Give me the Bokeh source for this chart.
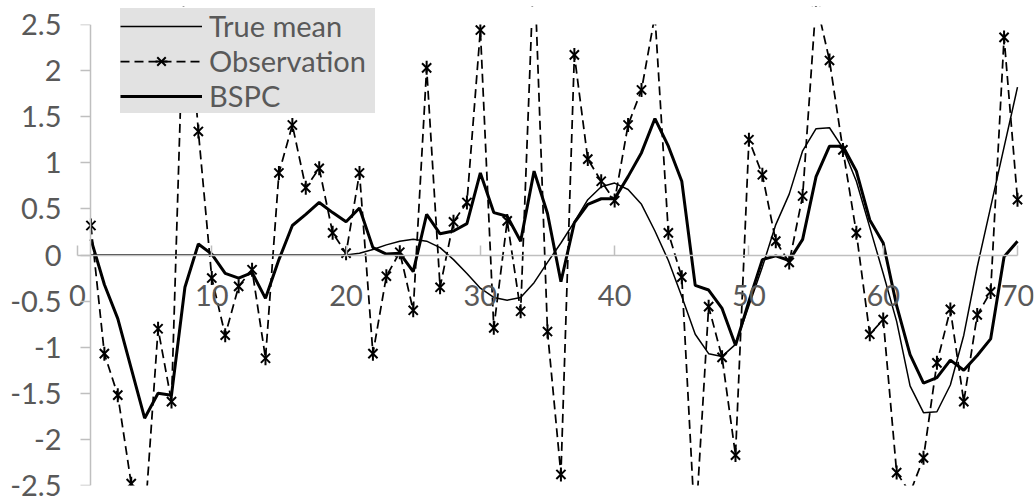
import math
from bokeh.plotting import figure
from bokeh.models import (FixedTicker, Legend, LegendItem, ColumnDataSource,
                          LinearAxis, BoxAnnotation)
from bokeh.embed import file_html
from bokeh.resources import INLINE

# ---------------- data ----------------
t = list(range(1, 71))

true_mean = [0, 0, 0, 0, 0, 0, 0, 0, 0, 0,
             0, 0, 0, 0, 0, 0, 0, 0, 0, 0,
             0.02, 0.06, 0.11, 0.15, 0.17, 0.15, 0.08, -0.05, -0.2, -0.36,
             -0.46, -0.49, -0.46, -0.3, -0.08, 0.13, 0.36, 0.6, 0.74, 0.78,
             0.71, 0.55, 0.26, -0.06, -0.45, -0.86, -1.07, -1.1, -0.97, -0.55,
             -0.13, 0.33, 0.66, 1.13, 1.37, 1.38, 1.16, 0.8, 0.3, -0.2,
             -0.72, -1.42, -1.71, -1.7, -1.41, -0.87, -0.13, 0.52, 1.17, 1.82]

observation = [0.32, -1.07, -1.52, -2.48, -2.9, -0.8, -1.59, 3.2, 1.34, -0.25,
               -0.87, -0.34, -0.16, -1.12, 0.89, 1.41, 0.73, 0.94, 0.24, 0.02,
               0.89, -1.07, -0.23, 0.03, -0.6, 2.03, -0.35, 0.36, 0.57, 2.44,
               -0.79, 0.37, -0.61, 3.2, -0.83, -2.38, 2.17, 1.04, 0.8, 0.59,
               1.41, 1.79, 2.6, 0.24, -0.24, -3.0, -0.56, -1.11, -2.17, 1.25,
               0.87, 0.15, -0.08, 0.64, 2.75, 2.11, 1.14, 0.24, -0.86, -0.7,
               -2.36, -2.58, -2.2, -1.17, -0.59, -1.59, -0.65, -0.4, 2.36, 0.6]

bspc = [0.17, -0.32, -0.69, -1.23, -1.77, -1.5, -1.52, -0.35, 0.12, 0.01,
        -0.2, -0.25, -0.19, -0.47, -0.05, 0.32, 0.44, 0.57, 0.46, 0.36,
        0.51, 0.08, 0.01, 0.02, -0.18, 0.44, 0.23, 0.26, 0.34, 0.89,
        0.46, 0.42, 0.15, 0.91, 0.45, -0.29, 0.35, 0.55, 0.61, 0.61,
        0.85, 1.11, 1.48, 1.18, 0.8, -0.33, -0.38, -0.58, -0.98, -0.5,
        -0.05, -0.01, -0.06, 0.17, 0.85, 1.18, 1.18, 0.91, 0.38, 0.13,
        -0.55, -1.08, -1.39, -1.33, -1.14, -1.25, -1.09, -0.91, -0.02, 0.15]

series_labels = ["True mean", "Observation", "BSPC"]

x_ticks = [0, 10, 20, 30, 40, 50, 60, 70]
x_tick_labels = ["0", "10", "20", "30", "40", "50", "60", "70"]
y_ticks = [-2.5, -2, -1.5, -1, -0.5, 0, 0.5, 1, 1.5, 2, 2.5]
y_tick_labels = ["-2.5", "-2", "-1.5", "-1", "-0.5", "0", "0.5", "1", "1.5", "2", "2.5"]

# ---------------- style / layout ----------------
FONT = "Lato"
TXT = "#595959"
AX = "#bfbfbf"
FS = "29px"

PX_PER_X = 940 / 70        # 0..70 spans 940 px
PX_PER_Y = 461 / 5         # -2.5..2.5 spans 461 px
LEFT_PAD = 10              # frame starts a little left of x = 0
RIGHT_PAD = 16             # ... and ends a little right of x = 70
TOP_PAD = 18               # frame reaches a little above y = 2.5 (room for legend)

x_start = -LEFT_PAD / PX_PER_X
x_end = 70 + RIGHT_PAD / PX_PER_X
y_end = 2.5 + TOP_PAD / PX_PER_Y

p = figure(frame_width=940 + LEFT_PAD + RIGHT_PAD, frame_height=461 + TOP_PAD,
           x_range=(x_start, x_end), y_range=(-2.5, y_end),
           output_backend="svg", toolbar_location=None,
           min_border_left=67, min_border_right=3,
           min_border_top=6, min_border_bottom=18)
p.outline_line_color = None
p.xgrid.visible = False
p.ygrid.visible = False
p.background_fill_color = "white"
p.border_fill_color = "white"

# x axis drawn through y = 0
xa = p.xaxis[0]
xa.fixed_location = 0
xa.bounds = (0, 70)
xa.ticker = FixedTicker(ticks=x_ticks)
xa.major_label_overrides = {v: s for v, s in zip(x_ticks, x_tick_labels)}
xa.major_tick_in = 10
xa.major_tick_out = 0
xa.minor_tick_in = 0
xa.minor_tick_out = 0
xa.axis_line_color = AX
xa.axis_line_width = 1.5
xa.major_tick_line_color = AX
xa.major_tick_line_width = 1.5
xa.major_label_text_font = FONT
xa.major_label_text_font_size = FS
xa.major_label_text_color = TXT
xa.major_label_standoff = 30

# y labels (regular left axis, line hidden)
ya = p.yaxis[0]
ya.ticker = FixedTicker(ticks=y_ticks)
ya.major_label_overrides = {v: s for v, s in zip(y_ticks, y_tick_labels)}
ya.major_tick_in = 0
ya.major_tick_out = 0
ya.minor_tick_in = 0
ya.minor_tick_out = 0
ya.axis_line_color = None
ya.major_tick_line_color = None
ya.major_label_text_font = FONT
ya.major_label_text_font_size = FS
ya.major_label_text_color = TXT
ya.major_label_standoff = 6

# y axis line + ticks at x = 1
ya2 = LinearAxis(fixed_location=1, bounds=(-2.5, 2.5),
                 ticker=FixedTicker(ticks=y_ticks),
                 major_label_overrides={v: "" for v in y_ticks},
                 major_tick_in=0, major_tick_out=10,
                 minor_tick_in=0, minor_tick_out=0,
                 axis_line_color=AX, axis_line_width=1.5,
                 major_tick_line_color=AX, major_tick_line_width=1.5)
p.add_layout(ya2, "left")

src = ColumnDataSource(dict(t=t, true_mean=true_mean,
                            observation=observation, bspc=bspc))

r_true = p.line("t", "true_mean", source=src, line_color="black", line_width=1.5)
r_obs = p.line("t", "observation", source=src, line_color="black",
               line_width=1.75, line_dash="9 5")
r_obs_x = p.scatter("t", "observation", source=src, marker="x", size=13,
                    line_color="black", line_width=2)
r_obs_v = p.scatter("t", "observation", source=src, marker="dash", size=14,
                    angle=math.pi / 2, line_color="black", line_width=2)
r_bspc = p.line("t", "bspc", source=src, line_color="black", line_width=3)

# plot area ends at 2.5: hide what lies above it (as the original chart clips there)
p.add_layout(BoxAnnotation(bottom=2.5, fill_color="white", fill_alpha=1,
                           line_color=None))

legend = Legend(items=[
    LegendItem(label=series_labels[0], renderers=[r_true]),
    LegendItem(label=series_labels[1], renderers=[r_obs, r_obs_x, r_obs_v]),
    LegendItem(label=series_labels[2], renderers=[r_bspc]),
], location=(53, 372))
legend.background_fill_color = "#e2e2e2"
legend.background_fill_alpha = 1
legend.border_line_color = None
legend.label_text_font = FONT
legend.label_text_font_size = FS
legend.label_text_color = TXT
legend.glyph_width = 82
legend.glyph_height = 30
legend.label_height = 30
legend.label_width = 166
legend.spacing = 0
legend.padding = 1
legend.margin = 0
legend.label_standoff = 7
p.add_layout(legend)

open("out.html", "w").write(file_html(p, INLINE))
